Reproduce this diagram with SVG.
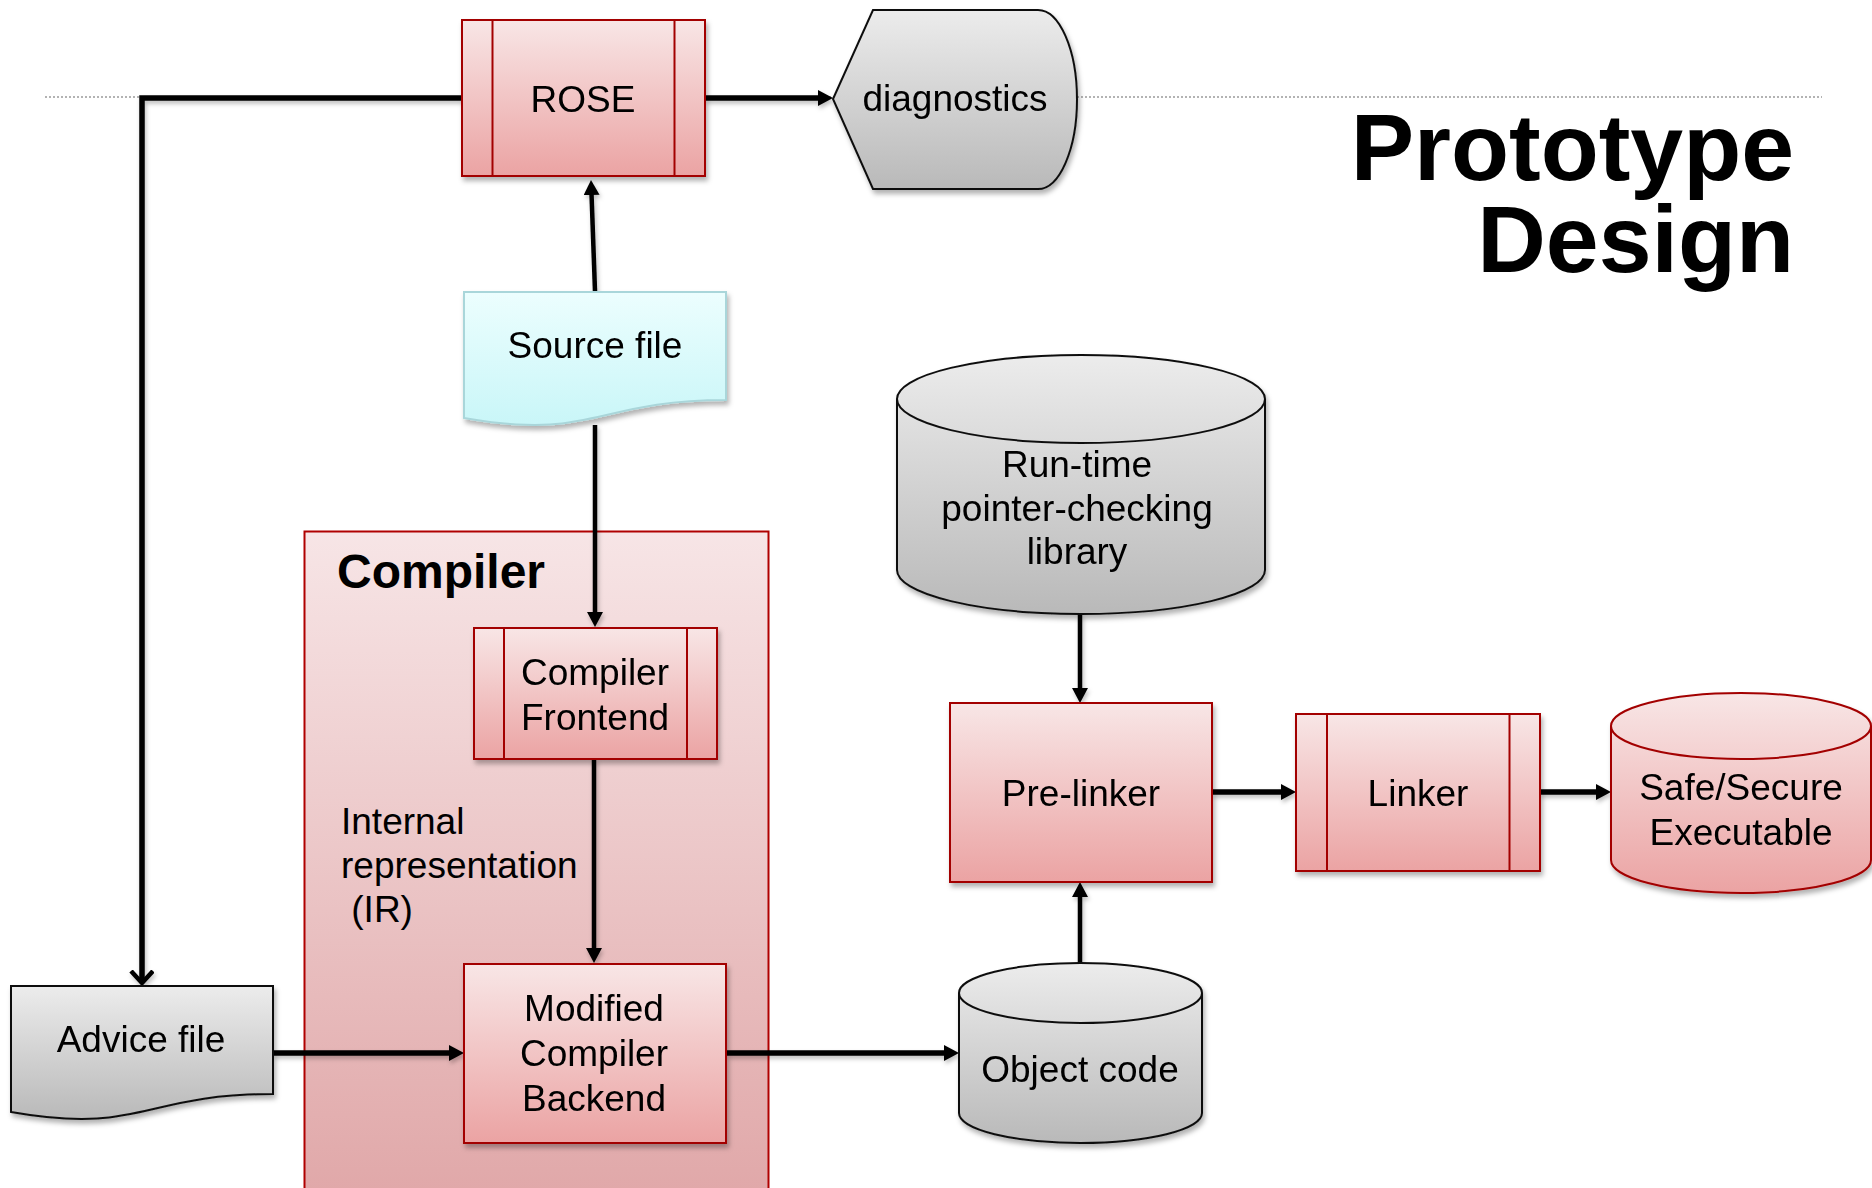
<svg xmlns="http://www.w3.org/2000/svg" width="1872" height="1188" viewBox="0 0 1872 1188">
  <style>
    text { font-family: "Liberation Sans", Arial, sans-serif; fill: #000; }
    .lbl { font-size: 37px; text-anchor: middle; }
    .left { font-size: 37px; text-anchor: start; }
    .title { font-size: 95px; font-weight: bold; text-anchor: end; }
    .group-title { font-size: 48px; font-weight: bold; }
    .proc { fill: url(#pinkFill); stroke: #a30000; stroke-width: 2; }
    .bar { stroke: #a30000; stroke-width: 2; fill: none; }
    .gray { fill: url(#grayFill); stroke: #111; stroke-width: 2; }
    .doc-src { fill: url(#cyanFill); stroke: #a9d6da; stroke-width: 2; }
    .can-pink { fill: url(#pinkFill); stroke: #a30000; stroke-width: 2; }
    .cap-line { fill: none; }
    .wire { fill: none; stroke: #000; stroke-width: 4.5; }
    .wire-thick { fill: none; stroke: #000; stroke-width: 5.5; }
    .rule { stroke: #9a9a9a; stroke-width: 1.6; stroke-dasharray: 2 2; }
  </style>
  <defs>
    <linearGradient id="pinkFill" x1="0" y1="0" x2="0" y2="1">
      <stop offset="0" stop-color="#f8e6e6"/>
      <stop offset="1" stop-color="#eba3a3"/>
    </linearGradient>
    <linearGradient id="groupFill" x1="0" y1="0" x2="0" y2="1">
      <stop offset="0" stop-color="#f7e5e6"/>
      <stop offset="1" stop-color="#e0a7a8"/>
    </linearGradient>
    <linearGradient id="grayFill" x1="0" y1="0" x2="0" y2="1">
      <stop offset="0" stop-color="#ececec"/>
      <stop offset="1" stop-color="#b9b9b9"/>
    </linearGradient>
    <linearGradient id="cyanFill" x1="0" y1="0" x2="0" y2="1">
      <stop offset="0" stop-color="#ecfefe"/>
      <stop offset="1" stop-color="#c9f6f8"/>
    </linearGradient>
    <filter id="shadow" x="-10%" y="-10%" width="125%" height="130%">
      <feDropShadow dx="2" dy="4" stdDeviation="2.5" flood-color="#000" flood-opacity="0.3"/>
    </filter>
    <filter id="wireShadow" x="-5%" y="-5%" width="110%" height="110%">
      <feDropShadow dx="1.5" dy="3" stdDeviation="2" flood-color="#000" flood-opacity="0.25"/>
    </filter>
    <marker id="arrow" markerUnits="userSpaceOnUse" markerWidth="18" markerHeight="18" refX="7" refY="8" orient="auto">
      <path d="M0,0 L15,8 L0,16 Z" fill="#000"/>
    </marker>
    <marker id="arrowOpen" markerUnits="userSpaceOnUse" markerWidth="20" markerHeight="28" refX="13" refY="12" orient="auto">
      <path d="M1,1 L13,12 L1,23" fill="none" stroke="#000" stroke-width="4.5" stroke-linejoin="miter"/>
    </marker>
  </defs>

  <!-- header rule -->
  <line class="rule" x1="45" y1="97" x2="1822" y2="97"/>

  <!-- title -->
  <text class="title" x="1794" y="180">Prototype</text>
  <text class="title" x="1794" y="272">Design</text>

  <!-- compiler container -->
  <g id="compiler">
    <rect x="304.5" y="531.5" width="464" height="670" fill="url(#groupFill)" stroke="#b00000" stroke-width="2"/>
    <text class="group-title" x="337" y="588">Compiler</text>
    <text class="left" x="341" y="834">Internal</text>
    <text class="left" x="341" y="878">representation</text>
    <text class="left" x="341" y="922" xml:space="preserve"> (IR)</text>
  </g>

  <!-- connectors -->
  <g id="connectors" filter="url(#wireShadow)">
    <path class="wire-thick" d="M462,98 H142 V983" marker-end="url(#arrowOpen)"/>
    <path class="wire-thick" d="M705,98 H825" marker-end="url(#arrow)"/>
    <path class="wire" d="M595,291 L591.3,188" marker-end="url(#arrow)"/>
    <path class="wire" d="M595,425 V619" marker-end="url(#arrow)"/>
    <path class="wire" d="M594,759 V955" marker-end="url(#arrow)"/>
    <path class="wire-thick" d="M273,1053 H456" marker-end="url(#arrow)"/>
    <path class="wire-thick" d="M727,1053 H951" marker-end="url(#arrow)"/>
    <path class="wire" d="M1080,963 V890" marker-end="url(#arrow)"/>
    <path class="wire" d="M1080,614 V695" marker-end="url(#arrow)"/>
    <path class="wire-thick" d="M1212,792 H1288" marker-end="url(#arrow)"/>
    <path class="wire-thick" d="M1540,792 H1603" marker-end="url(#arrow)"/>
  </g>

  <!-- ROSE -->
  <g id="rose" filter="url(#shadow)">
    <rect class="proc" x="462" y="20" width="243" height="156"/>
    <line class="bar" x1="492.5" y1="20" x2="492.5" y2="176"/>
    <line class="bar" x1="674.5" y1="20" x2="674.5" y2="176"/>
    <text class="lbl" x="583" y="112">ROSE</text>
  </g>

  <!-- diagnostics -->
  <g id="diagnostics" filter="url(#shadow)">
    <path class="gray" d="M833,99 L873,10 H1038 A39,89.5 0 0 1 1038,189 H873 Z"/>
    <text class="lbl" x="955" y="111">diagnostics</text>
  </g>

  <!-- Source file -->
  <g id="source-file" filter="url(#shadow)">
    <path class="doc-src" d="M464,292 H726 V400 C595,400 595,441 464,418 Z"/>
    <text class="lbl" x="595" y="358">Source file</text>
  </g>

  <!-- Compiler Frontend -->
  <g id="compiler-frontend" filter="url(#shadow)">
    <rect class="proc" x="474" y="628" width="243" height="131"/>
    <line class="bar" x1="504" y1="628" x2="504" y2="759"/>
    <line class="bar" x1="687" y1="628" x2="687" y2="759"/>
    <text class="lbl" x="595" y="685">Compiler</text>
    <text class="lbl" x="595" y="730">Frontend</text>
  </g>

  <!-- Modified Compiler Backend -->
  <g id="compiler-backend" filter="url(#shadow)">
    <rect class="proc" x="464" y="964" width="262" height="179"/>
    <text class="lbl" x="594" y="1021">Modified</text>
    <text class="lbl" x="594" y="1066">Compiler</text>
    <text class="lbl" x="594" y="1111">Backend</text>
  </g>

  <!-- Advice file -->
  <g id="advice-file" filter="url(#shadow)">
    <path class="gray" d="M11,986 H273 V1094 C142,1094 142,1135 11,1112 Z"/>
    <text class="lbl" x="141" y="1052">Advice file</text>
  </g>

  <!-- Run-time library -->
  <g id="runtime-library" filter="url(#shadow)">
    <path class="gray" d="M897,399 A184,44 0 0 1 1265,399 V570 A184,44 0 0 1 897,570 Z"/>
    <path class="gray cap-line" d="M897,399 A184,44 0 0 0 1265,399"/>
    <text class="lbl" x="1077" y="477">Run-time</text>
    <text class="lbl" x="1077" y="521">pointer-checking</text>
    <text class="lbl" x="1077" y="564">library</text>
  </g>

  <!-- Object code -->
  <g id="object-code" filter="url(#shadow)">
    <path class="gray" d="M959,993 A121.5,30 0 0 1 1202,993 V1113 A121.5,30 0 0 1 959,1113 Z"/>
    <path class="gray cap-line" d="M959,993 A121.5,30 0 0 0 1202,993"/>
    <text class="lbl" x="1080" y="1082">Object code</text>
  </g>

  <!-- Pre-linker -->
  <g id="pre-linker" filter="url(#shadow)">
    <rect class="proc" x="950" y="703" width="262" height="179"/>
    <text class="lbl" x="1081" y="806">Pre-linker</text>
  </g>

  <!-- Linker -->
  <g id="linker" filter="url(#shadow)">
    <rect class="proc" x="1296" y="714" width="244" height="157"/>
    <line class="bar" x1="1327" y1="714" x2="1327" y2="871"/>
    <line class="bar" x1="1509.5" y1="714" x2="1509.5" y2="871"/>
    <text class="lbl" x="1418" y="806">Linker</text>
  </g>

  <!-- Safe/Secure Executable -->
  <g id="safe-executable" filter="url(#shadow)">
    <path class="can-pink" d="M1611,726 A130,33 0 0 1 1871,726 V860 A130,33 0 0 1 1611,860 Z"/>
    <path class="can-pink cap-line" d="M1611,726 A130,33 0 0 0 1871,726"/>
    <text class="lbl" x="1741" y="800">Safe/Secure</text>
    <text class="lbl" x="1741" y="845">Executable</text>
  </g>
</svg>
